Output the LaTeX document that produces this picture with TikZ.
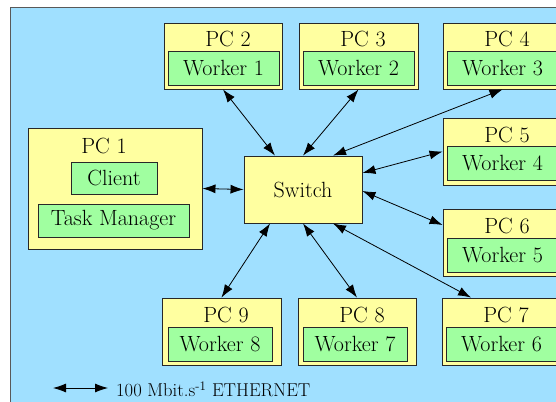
\documentclass[tikz,border=0pt]{standalone}
\usetikzlibrary{arrows.meta}
\definecolor{netblue}{RGB}{160,224,255}
\definecolor{pcyellow}{RGB}{255,255,160}
\definecolor{procgreen}{RGB}{160,255,160}
\definecolor{edgegray}{RGB}{40,40,40}
\tikzset{
  bigtext/.style={font=\rmfamily\fontsize{22}{26}\selectfont},
  pcbox/.style={draw=edgegray, line width=0.9pt, fill=pcyellow, inner sep=0pt},
  procbox/.style={draw=edgegray, line width=0.9pt, fill=procgreen, inner sep=0pt, bigtext},
  title/.style={inner sep=0pt, bigtext},
  link/.style={line width=0.8pt, {Latex[length=13pt,width=9pt]}-{Latex[length=13pt,width=9pt]}},
}
\begin{document}
\begin{tikzpicture}[x=1pt, y=-1pt]
\useasboundingbox (0,0) rectangle (556,401);
% network area
\fill[white] (0,0) rectangle (556,401);
\draw[fill=netblue, draw=gray!70!black, line width=1pt] (10,8) rectangle (570,420);

% workstations: outer PC box, title, process box
\node[pcbox, minimum width=118pt, minimum height=66pt] (pc2) at (223,56) {};
\node[title] at (228,39) {PC 2};
\node[procbox, minimum width=111pt, minimum height=34pt] (w1) at (223.5,68) {Worker 1};

\node[pcbox, minimum width=119pt, minimum height=66pt] (pc3) at (358.5,56) {};
\node[title] at (363,39) {PC 3};
\node[procbox, minimum width=111pt, minimum height=34pt] (w2) at (358.5,68) {Worker 2};

\node[pcbox, minimum width=119pt, minimum height=66pt] (pc4) at (502.5,56) {};
\node[title] at (507,39) {PC 4};
\node[procbox, minimum width=111pt, minimum height=34pt] (w3) at (502.5,68) {Worker 3};

\node[pcbox, minimum width=119pt, minimum height=67pt] (pc5) at (502.5,151.5) {};
\node[title] at (507,135) {PC 5};
\node[procbox, minimum width=111pt, minimum height=34pt] (w4) at (502.5,163.5) {Worker 4};

\node[pcbox, minimum width=119pt, minimum height=67pt] (pc6) at (502.5,242.5) {};
\node[title] at (507,226) {PC 6};
\node[procbox, minimum width=111pt, minimum height=34pt] (w5) at (502.5,255) {Worker 5};

\node[pcbox, minimum width=119pt, minimum height=67pt] (pc7) at (501.5,331.5) {};
\node[title] at (506,315) {PC 7};
\node[procbox, minimum width=111pt, minimum height=34pt] (w6) at (501.5,344) {Worker 6};

\node[pcbox, minimum width=118pt, minimum height=67pt] (pc8) at (357,331.5) {};
\node[title] at (362,315) {PC 8};
\node[procbox, minimum width=104pt, minimum height=34pt] (w7) at (355,344) {Worker 7};

\node[pcbox, minimum width=119pt, minimum height=67pt] (pc9) at (221.5,331.5) {};
\node[title] at (226,315) {PC 9};
\node[procbox, minimum width=104pt, minimum height=34pt] (w8) at (220,344) {Worker 8};

\node[pcbox, minimum width=174pt, minimum height=121pt] (pc1) at (115,188.5) {};
\node[title] at (104,146) {PC 1};
\node[procbox, minimum width=86pt, minimum height=32pt] (client) at (114,178) {Client};
\node[procbox, minimum width=151pt, minimum height=33pt] (tm) at (113.5,220.5) {Task Manager};

% switch
\node[pcbox, minimum width=118pt, minimum height=67pt, bigtext] (sw) at (303,189.5) {Switch};

% ethernet links
\draw[link] (pc1.east) -- (sw.west);
\draw[link] (pc2.south) -- ([xshift=-28pt]sw.north);
\draw[link] (pc3.south) -- (sw.north);
\draw[link] (pc4.south) -- ([xshift=30pt]sw.north);
\draw[link] (pc5.west) -- ([yshift=16.5pt]sw.east);
\draw[link] ([yshift=-1.5pt]sw.east) -- ([yshift=17.5pt]pc6.west);
\draw[link] ([xshift=30pt]sw.south) -- ([xshift=-30.5pt]pc7.north);
\draw[link] (sw.south) -- (pc8.north);
\draw[link] ([xshift=-33pt]sw.south) -- (pc9.north);

% legend
\coordinate (la) at (53,388);
\coordinate (lb) at (108,388);
\draw[link] (la) -- (lb);
\node[anchor=west, inner sep=0pt, font=\rmfamily\fontsize{18.6}{22}\selectfont] (legend) at (116,389)
  {100 Mbit.s\textsuperscript{-1} ETHERNET};
\end{tikzpicture}
\end{document}
